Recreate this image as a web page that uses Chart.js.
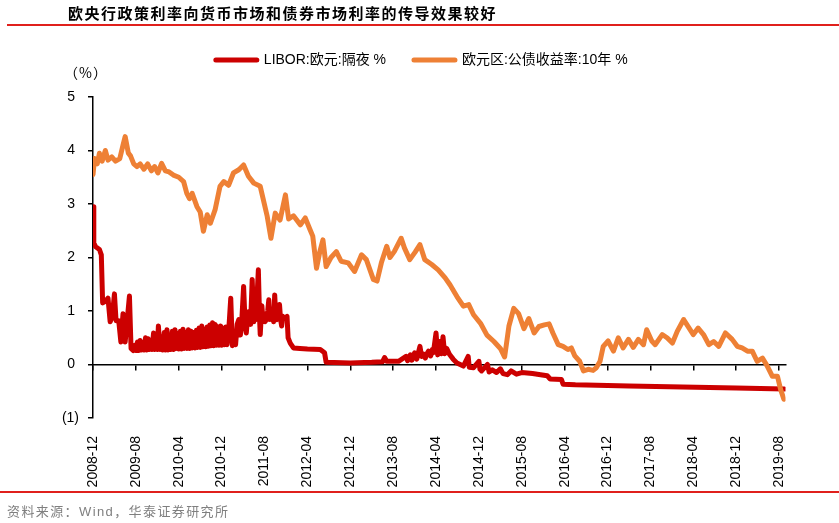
<!DOCTYPE html>
<html>
<head>
<meta charset="utf-8">
<script src="https://cdn.jsdelivr.net/npm/chart.js@4.4.1/dist/chart.umd.min.js"></script>
<style>
  body { margin: 0; background: #fff; }
  #wrap { position: relative; width: 839px; height: 523px; overflow: hidden; }
  #chart { position: absolute; left: 0; top: 0; }
  .title { position: absolute; left: 68px; top: 2px; font: bold 15px 'Noto Sans CJK SC', sans-serif; letter-spacing: 1.5px; color: #000; }
  .rule { position: absolute; left: 7px; right: 0; height: 2px; background: #e0201c; }
  .unit { position: absolute; left: 64px; top: 62px; font: 14px 'Noto Sans CJK SC', sans-serif; letter-spacing: 1px; color: #000; }
  .source { position: absolute; left: 7px; top: 501px; font: 13px 'Liberation Sans', 'Noto Sans CJK SC', sans-serif; letter-spacing: 1.4px; color: #7f7f7f; }
</style>
</head>
<body>
<div id="wrap">
  <canvas id="chart" width="839" height="523"></canvas>
  <div class="title">欧央行政策利率向货币市场和债券市场利率的传导效果较好</div>
  <div class="rule" style="top:24px"></div>
  <div class="unit">（%）</div>
  <div class="rule" style="top:491px; left:0"></div>
  <div class="source">资料来源：Wind，华泰证券研究所</div>
</div>
<script>
// x = months since 2008-12
const tickLabels = ['2008-12', '2009-08', '2010-04', '2010-12', '2011-08', '2012-04', '2012-12', '2013-08', '2014-04',
                    '2014-12', '2015-08', '2016-04', '2016-12', '2017-08', '2018-04', '2018-12', '2019-08'];

const liborRate = [
  [0, 2.95], [0.15, 2.27], [0.5, 2.2], [1.2, 2.15], [1.55, 2.05], [1.8, 1.15], [2.3, 1.18], [2.8, 1.24],
  [3.2, 0.8], [3.6, 0.9], [4.0, 1.32], [4.3, 0.82], [4.8, 0.82], [5.2, 0.42], [5.6, 0.95], [6.0, 0.42],
  [6.8, 1.28], [7.1, 0.3], [7.5, 0.26], [7.8, 0.36], [8.0, 0.26], [8.3, 0.42], [8.5, 0.26], [8.8, 0.45],
  [9.0, 0.27], [9.3, 0.38], [9.5, 0.27], [9.8, 0.5], [10.0, 0.27], [10.3, 0.48], [10.5, 0.28], [10.8, 0.42],
  [11.0, 0.28], [11.3, 0.59], [11.5, 0.28], [11.8, 0.5], [12.0, 0.28], [12.2, 0.72], [12.5, 0.28], [12.8, 0.52],
  [13.0, 0.27], [13.3, 0.6], [13.5, 0.27], [13.8, 0.65], [14.0, 0.27], [14.3, 0.55], [14.5, 0.28], [14.8, 0.62],
  [15.0, 0.28], [15.3, 0.65], [15.5, 0.3], [15.8, 0.58], [16.0, 0.29], [16.3, 0.62], [16.5, 0.29], [16.8, 0.66],
  [17.0, 0.3], [17.3, 0.6], [17.5, 0.3], [17.8, 0.65], [18.0, 0.3], [18.3, 0.62], [18.5, 0.31], [18.8, 0.6],
  [19.0, 0.31], [19.3, 0.64], [19.5, 0.32], [19.8, 0.68], [20.0, 0.32], [20.3, 0.72], [20.5, 0.33], [20.8, 0.66],
  [21.0, 0.33], [21.3, 0.7], [21.5, 0.34], [21.8, 0.74], [22.0, 0.35], [22.3, 0.78], [22.5, 0.35], [22.8, 0.75],
  [23.0, 0.36], [23.3, 0.7], [23.5, 0.36], [23.8, 0.72], [24.0, 0.36], [24.3, 0.68], [24.5, 0.37], [24.8, 0.7],
  [25.0, 0.37], [25.3, 0.6], [25.7, 1.24], [26.0, 0.35], [26.3, 0.6], [26.6, 0.37], [26.9, 0.75], [27.2, 0.84],
  [27.5, 0.55], [27.8, 0.9], [28.1, 1.46], [28.4, 0.7], [28.6, 0.59], [28.9, 0.95], [29.1, 0.99], [29.4, 0.75],
  [29.7, 1.59], [30.0, 0.8], [30.2, 1.0], [30.4, 0.84], [30.85, 1.77], [31.1, 0.8], [31.2, 0.56], [31.5, 1.1],
  [31.7, 0.85], [31.9, 0.95], [32.1, 0.8], [32.4, 0.85], [32.6, 1.0], [32.8, 1.21], [33.0, 0.84], [33.2, 0.9],
  [33.5, 0.95], [33.7, 0.8], [33.9, 1.3], [34.1, 0.9], [34.3, 0.84], [34.6, 1.0], [34.8, 1.12], [35.0, 0.84],
  [35.2, 0.72], [35.4, 0.9], [35.6, 0.85], [36.2, 0.9], [36.4, 0.5], [36.8, 0.4], [37.4, 0.31], [38.6, 0.3],
  [40.0, 0.29], [42.4, 0.28], [43.2, 0.22], [43.5, 0.04], [48, 0.03], [52, 0.04], [54.0, 0.05], [54.4, 0.13],
  [54.8, 0.06], [57, 0.06], [58.4, 0.15], [58.7, 0.07], [59.2, 0.18], [59.5, 0.08], [60, 0.22], [60.4, 0.1],
  [61.0, 0.34], [61.3, 0.15], [61.6, 0.2], [62.0, 0.12], [62.3, 0.2], [62.6, 0.25], [63.0, 0.16], [63.3, 0.28],
  [63.5, 0.22], [64.0, 0.59], [64.3, 0.18], [64.5, 0.3], [64.7, 0.43], [65.0, 0.2], [65.3, 0.52], [65.6, 0.2],
  [66.0, 0.3], [66.5, 0.19], [67.2, 0.1], [67.9, 0.03], [68.5, 0.0], [69.1, -0.03], [70.0, 0.15], [70.2, -0.05],
  [71.0, -0.06], [72.0, 0.06], [72.2, -0.09], [72.5, -0.12], [73.6, 0.0], [73.9, -0.14], [74.5, -0.1], [75.3, -0.15],
  [76.0, -0.08], [76.5, -0.17], [77.3, -0.19], [78.0, -0.12], [79.0, -0.18], [80.0, -0.15], [82.0, -0.17], [83.5, -0.19],
  [84.75, -0.21], [85.3, -0.27], [87.4, -0.28], [87.7, -0.37], [90, -0.38], [100, -0.4], [110, -0.42], [120, -0.44],
  [129, -0.46]
];

const bondYield = [
  [0, 3.55], [0.3, 3.85], [0.8, 3.75], [1.2, 3.95], [1.7, 3.8], [2.3, 4.0], [2.8, 3.82], [3.5, 3.88],
  [4.2, 3.8], [5.0, 3.85], [5.6, 4.1], [6.0, 4.26], [6.6, 3.95], [7.0, 3.9], [7.6, 3.75], [8.2, 3.7],
  [8.8, 3.75], [9.5, 3.65], [10.2, 3.75], [10.9, 3.62], [11.5, 3.7], [12.1, 3.58], [12.8, 3.76], [13.5, 3.62],
  [14.2, 3.6], [15.0, 3.54], [16.0, 3.5], [16.9, 3.42], [17.5, 3.2], [18.0, 3.1], [18.5, 3.2], [19.4, 2.95],
  [20.0, 2.85], [20.6, 2.49], [21.3, 2.8], [21.9, 2.64], [22.8, 2.9], [23.7, 3.33], [24.4, 3.42], [25.3, 3.35],
  [26.2, 3.58], [27.2, 3.64], [28.1, 3.73], [29.0, 3.52], [30.0, 3.39], [31.2, 3.33], [32.5, 2.77], [33.2, 2.36],
  [34.0, 2.83], [34.9, 2.7], [35.9, 3.17], [36.5, 2.72], [37.4, 2.78], [38.7, 2.61], [39.6, 2.74], [40.5, 2.52],
  [41.0, 2.4], [41.7, 1.8], [42.3, 2.1], [42.9, 2.33], [43.5, 1.83], [44.4, 2.0], [45.4, 2.11], [46.3, 1.93],
  [47.6, 1.9], [48.8, 1.74], [50.1, 2.05], [51.0, 1.96], [52.3, 1.59], [53.0, 1.56], [53.8, 1.9], [54.8, 2.21],
  [55.4, 2.0], [56.2, 2.11], [57.5, 2.36], [58.1, 2.18], [59.1, 1.96], [60.1, 2.1], [61.0, 2.24], [61.9, 1.96],
  [63.2, 1.87], [64.4, 1.77], [65.7, 1.62], [66.6, 1.49], [67.9, 1.27], [69.1, 1.09], [70.1, 1.12], [71.0, 0.93],
  [72.3, 0.77], [73.5, 0.55], [74.8, 0.43], [76.0, 0.3], [76.8, 0.14], [77.6, 0.72], [78.5, 1.05], [79.4, 0.95],
  [80.4, 0.67], [81.3, 0.86], [82.3, 0.59], [83.2, 0.71], [84.2, 0.74], [85.1, 0.76], [85.8, 0.59], [86.8, 0.37],
  [87.7, 0.34], [88.6, 0.28], [89.25, 0.31], [89.9, 0.16], [90.8, 0.06], [91.5, -0.12], [92.4, -0.09], [93.3, -0.11],
  [93.9, -0.06], [94.6, 0.06], [95.2, 0.34], [96.1, 0.44], [97.1, 0.25], [98.0, 0.5], [98.9, 0.31], [99.9, 0.47],
  [100.8, 0.32], [101.75, 0.47], [102.7, 0.37], [103.3, 0.65], [104.25, 0.44], [104.9, 0.37], [106.2, 0.56], [107.1, 0.5],
  [108.1, 0.40], [109.0, 0.62], [110.2, 0.84], [111.1, 0.7], [112.0, 0.56], [112.9, 0.68], [113.9, 0.56], [114.9, 0.37],
  [115.8, 0.43], [116.75, 0.34], [118.0, 0.59], [119.25, 0.47], [120.2, 0.34], [121.1, 0.31], [122.1, 0.25], [123.0, 0.25],
  [123.9, 0.06], [124.9, 0.12], [125.8, -0.03], [126.75, -0.22], [127.7, -0.22], [128.3, -0.47], [128.9, -0.65]
];

const toPoints = (arr) => arr.map(([x, y]) => ({ x, y }));
const monthTicks = (scale) => { scale.ticks = tickLabels.map((_, i) => ({ value: i * 8 })); };

// pushes the plot area down below the legend
const legendGap = {
  id: 'legendGap',
  beforeInit(chart) {
    const fit = chart.legend.fit;
    chart.legend.fit = function () { fit.call(this); this.height += 20; };
  }
};

const font = "'Liberation Sans', Arial, 'Noto Sans CJK SC', sans-serif";

new Chart(document.getElementById('chart'), {
    type: 'line',
    data: {
        datasets: [{
            label: 'LIBOR:欧元:隔夜 %',
            data: toPoints(liborRate),
            borderColor: '#cc0000',
            backgroundColor: '#cc0000',
            borderWidth: 5,
            borderJoinStyle: 'round',
            borderCapStyle: 'round',
            pointRadius: 0,
            order: 1
        },
        {
            label: '欧元区:公债收益率:10年 %',
            data: toPoints(bondYield),
            borderColor: '#ee8035',
            backgroundColor: '#ee8035',
            borderWidth: 5,
            borderJoinStyle: 'round',
            borderCapStyle: 'round',
            pointRadius: 0,
            order: 0
        }]
    },
    plugins: [legendGap],
    options: {
        responsive: false,
        animation: false,
        layout: { padding: { left: 58, right: 53.5, top: 25, bottom: 35 } },
        plugins: {
            tooltip: { enabled: false },
            legend: {
                labels: {
                    boxWidth: 41,
                    boxHeight: 0,
                    padding: 28,
                    color: '#000',
                    font: { size: 14, family: font },
                    sort: (a, b) => a.datasetIndex - b.datasetIndex,
                    generateLabels: (chart) => Chart.defaults.plugins.legend.labels.generateLabels(chart)
                        .map(item => Object.assign(item, { lineWidth: 5 }))
                }
            }
        },
        scales: {
            x: {
                type: 'linear',
                min: 0,
                max: 129.2,
                afterBuildTicks: monthTicks,
                afterFit: (s) => { s.height = 70; },
                border: { display: false },
                grid: { display: false },
                ticks: {
                    autoSkip: false,
                    maxRotation: 90,
                    minRotation: 90,
                    padding: 10,
                    color: '#000',
                    font: { size: 14, family: font },
                    callback: (v) => tickLabels[v / 8]
                }
            },
            x2: {
                type: 'linear',
                axis: 'x',
                position: { y: 0 },
                min: 0,
                max: 129.2,
                afterBuildTicks: monthTicks,
                border: { color: '#000', width: 1.5 },
                grid: { drawOnChartArea: false, tickLength: 5, color: '#000', lineWidth: 1.5 },
                ticks: { display: false }
            },
            y: {
                min: -1,
                max: 5,
                afterFit: (s) => { s.width = 35; },
                border: { color: '#000', width: 1.5 },
                grid: { drawOnChartArea: false, tickLength: 5, color: '#000', lineWidth: 1.5 },
                ticks: {
                    stepSize: 1,
                    padding: 9,
                    color: '#000',
                    font: { size: 14, family: font },
                    callback: (v) => v < 0 ? '(' + Math.abs(v) + ')' : v + ' '
                }
            }
        }
    }
});
</script>
</body>
</html>
